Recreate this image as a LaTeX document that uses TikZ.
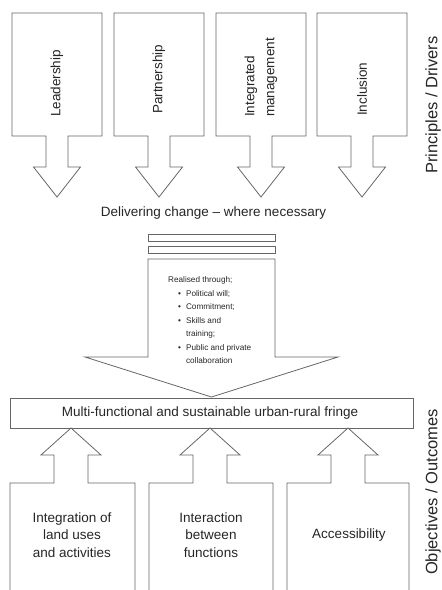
\documentclass[tikz,border=0pt]{standalone}
\usepackage{fontspec}
\setmainfont{Liberation Sans}
\tikzset{
  block/.style = {draw = black!60, line width = 0.8pt, line join = miter},
  lbl/.style = {text = black!85, inner sep = 0pt},
  side/.style = {lbl, rotate = 90, font = \fontsize{16.5}{20}\selectfont},
}
\begin{document}
\begin{tikzpicture}[x = 1pt, y = -1pt]
            \useasboundingbox (0, 0) rectangle (442, 590);
            %\draw[lightgray] (0, 0) grid[step = 50] (442, 590);
            % principles / drivers
            \draw[block] (12, 13) -- (102, 13) -- (102, 136) -- (68, 136) -- (68, 167) -- (80.5, 167) -- (57, 197) -- (33.5, 167) -- (46, 167) -- (46, 136) -- (12, 136) -- cycle;
            \draw[block] (114, 13) -- (204, 13) -- (204, 136) -- (170, 136) -- (170, 167) -- (182.5, 167) -- (159, 197) -- (135.5, 167) -- (148, 167) -- (148, 136) -- (114, 136) -- cycle;
            \draw[block] (216, 13) -- (306, 13) -- (306, 136) -- (272, 136) -- (272, 167) -- (284.5, 167) -- (261, 197) -- (237.5, 167) -- (250, 167) -- (250, 136) -- (216, 136) -- cycle;
            \draw[block] (317, 13) -- (407, 13) -- (407, 136) -- (373, 136) -- (373, 167) -- (385.5, 167) -- (362, 197) -- (338.5, 167) -- (351, 167) -- (351, 136) -- (317, 136) -- cycle;

            \node[lbl, rotate = 90, anchor = west, font = \fontsize{13.5}{20}\selectfont] (lead) at (57, 117) {Leadership};
            \node[lbl, rotate = 90, anchor = west, font = \fontsize{13.5}{20}\selectfont] (partner) at (159, 114) {Partnership};
            \node[lbl, rotate = 90, anchor = west, align = left, font = \fontsize{13.5}{20}\selectfont] (integ) at (261, 117) {Integrated\\management};
            \node[lbl, rotate = 90, anchor = west, font = \fontsize{13.5}{20}\selectfont] (incl) at (362, 116) {Inclusion};
            \node[side] (drivers) at (433, 105) {Principles / Drivers};

            \node[lbl, font = \fontsize{13.5}{16}\selectfont] (deliver) at (213.5, 213) {Delivering change -- where necessary};

            % delivery
            \draw[block] (148, 234) rectangle (275, 241);
            \draw[block] (148, 246) rectangle (275, 253);
            \draw[block] (148, 259) -- (275, 259) -- (275, 357) -- (338, 357) -- (211.5, 397) -- (85, 357) -- (148, 357) -- cycle;
            \node[lbl, anchor = base west, font = \fontsize{8.2}{13.5}\selectfont] (realised) at (168, 282.5)
              {\begin{tabular}[t]{@{\hspace{10pt}}l@{\hspace{5pt}}l@{}}
                 \multicolumn{2}{@{}l@{}}{Realised through;}\\
                 \textbullet & Political will;\\
                 \textbullet & Commitment;\\
                 \textbullet & Skills and\\
                             & training;\\
                 \textbullet & Public and private\\
                             & collaboration
               \end{tabular}};

            % objectives / outcomes
            \draw[block] (10, 398) rectangle (413, 428);
            \node[lbl, font = \fontsize{13.5}{16}\selectfont] (fringe) at (210, 413) {Multi-functional and sustainable urban-rural fringe};

            \draw[block] (10, 590) -- (10, 483) -- (54, 483) -- (54, 455) -- (41, 455) -- (71, 428) -- (101, 455) -- (88, 455) -- (88, 483) -- (135, 483) -- (135, 590);
            \draw[block] (149, 590) -- (149, 483) -- (193, 483) -- (193, 455) -- (180, 455) -- (210, 428) -- (240, 455) -- (227, 455) -- (227, 483) -- (273, 483) -- (273, 590);
            \draw[block] (287, 590) -- (287, 483) -- (331, 483) -- (331, 455) -- (318, 455) -- (348, 428) -- (378, 455) -- (365, 455) -- (365, 483) -- (409, 483) -- (409, 590);

            \node[lbl, align = center, font = \fontsize{13.5}{17.5}\selectfont] (landuse) at (72, 535) {Integration of\\land uses\\and activities};
            \node[lbl, align = center, font = \fontsize{13.5}{17.5}\selectfont] (interact) at (211, 535) {Interaction\\between\\functions};
            \node[lbl, font = \fontsize{13.5}{17.5}\selectfont] (access) at (349, 535) {Accessibility};
            \node[side] (outcomes) at (433, 492) {Objectives / Outcomes};
\end{tikzpicture}
\end{document}
